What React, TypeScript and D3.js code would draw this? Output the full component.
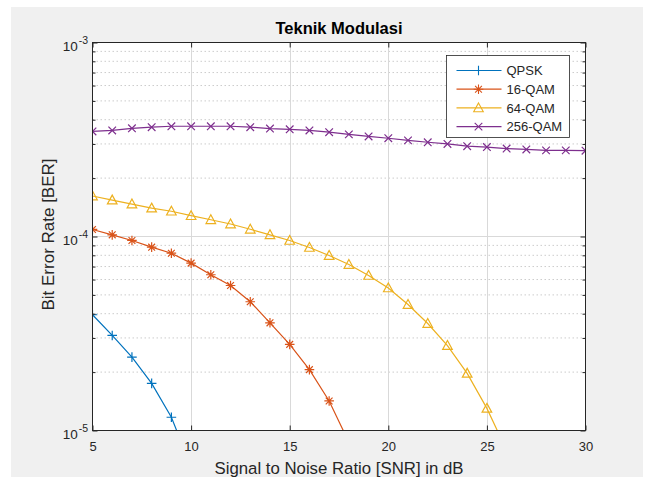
import { useEffect, useRef } from 'react';
import * as d3 from 'd3';

// SNR axis values (dB)
const snr = [5, 6, 7, 8, 9, 10, 11, 12, 13, 14, 15, 16, 17, 18, 19, 20, 21, 22, 23, 24, 25, 26, 27, 28, 29, 30];

// BER per modulation (index matches snr)
const berQpsk = [3.95e-5, 3.09e-5, 2.39e-5, 1.75e-5, 1.17e-5, 6.5e-6];
const berQam16 = [1.087e-4, 1.02e-4, 9.54e-5, 8.81e-5, 8.2e-5, 7.29e-5, 6.35e-5, 5.59e-5, 4.61e-5, 3.59e-5, 2.78e-5, 2.06e-5, 1.42e-5, 8.7e-6];
const berQam64 = [1.617e-4, 1.54e-4, 1.47e-4, 1.4e-4, 1.35e-4, 1.28e-4, 1.22e-4, 1.16e-4, 1.09e-4, 1.02e-4, 9.54e-5, 8.78e-5, 7.98e-5, 7.17e-5, 6.3e-5, 5.43e-5, 4.46e-5, 3.56e-5, 2.74e-5, 1.97e-5, 1.3e-5, 7.9e-6];
const berQam256 = [3.48e-4, 3.52e-4, 3.61e-4, 3.66e-4, 3.7e-4, 3.7e-4, 3.7e-4, 3.7e-4, 3.66e-4, 3.6e-4, 3.57e-4, 3.52e-4, 3.45e-4, 3.36e-4, 3.28e-4, 3.21e-4, 3.13e-4, 3.06e-4, 3.0e-4, 2.92e-4, 2.89e-4, 2.84e-4, 2.81e-4, 2.78e-4, 2.78e-4, 2.77e-4];

const seriesNames = ['QPSK', '16-QAM', '64-QAM', '256-QAM'];
const seriesColors = ['#0072BD', '#D95319', '#EDB120', '#7E2F8E'];
const seriesMarkers = ['plus', 'asterisk', 'triangle', 'cross'];
const seriesData = [berQpsk, berQam16, berQam64, berQam256];

const xTicks = [5, 10, 15, 20, 25, 30];
const yDecades = [-5, -4, -3];

const FONT = '"Liberation Sans", Arial, Helvetica, sans-serif';
const AX = '#262626';

// marker glyphs (MATLAB style)
const markerPath = (kind: string) => {
  if (kind === 'plus') return 'M-4.8,0H4.8M0,-4.8V4.8';
  if (kind === 'asterisk') return 'M-4.8,0H4.8M0,-4.8V4.8M-3.4,-3.4L3.4,3.4M-3.4,3.4L3.4,-3.4';
  if (kind === 'triangle') return 'M0,-5L4.8,3.8L-4.8,3.8Z';
  return 'M-3.8,-3.8L3.8,3.8M-3.8,3.8L3.8,-3.8';
};

const App = () => {
  const svgRef = useRef(null);

  useEffect(() => {
    const svg = d3.select(svgRef.current);
    svg.selectAll('*').remove();

    const left = 92.5, right = 585.5, top = 42.5, bottom = 430.5;

    const x = d3.scaleLinear().domain([5, 30]).range([left, right]);
    const y = d3.scaleLog().domain([1e-5, 1e-3]).range([bottom, top]);

    // figure background
    svg.append('rect')
      .attr('x', 11).attr('y', 7).attr('width', 632).attr('height', 470)
      .attr('fill', '#f0f0f0');

    // plot area
    svg.append('rect')
      .attr('x', left).attr('y', top)
      .attr('width', right - left).attr('height', bottom - top)
      .attr('fill', '#ffffff');

    svg.append('defs').append('clipPath').attr('id', 'plot-clip')
      .append('rect')
      .attr('x', left).attr('y', top)
      .attr('width', right - left).attr('height', bottom - top);

    const allTicks = y.ticks();
    const minorTicks = allTicks.filter(t => Math.abs(Math.log10(t) - Math.round(Math.log10(t))) > 1e-6);
    const majorY = yDecades.map(e => Math.pow(10, e));

    // minor grid (dotted)
    svg.append('g').selectAll('line')
      .data(minorTicks)
      .join('line')
      .attr('x1', left).attr('x2', right)
      .attr('y1', d => y(d)).attr('y2', d => y(d))
      .attr('stroke', '#cccccc')
      .attr('stroke-width', 1)
      .attr('stroke-dasharray', '1.5,2.5');

    // major grid
    const grid = svg.append('g').attr('stroke', '#d9d9d9').attr('stroke-width', 1);
    grid.selectAll('line.gx')
      .data(xTicks.slice(1, -1))
      .join('line')
      .attr('class', 'gx')
      .attr('x1', d => Math.round(x(d)) + 0.5).attr('x2', d => Math.round(x(d)) + 0.5)
      .attr('y1', top).attr('y2', bottom);
    grid.selectAll('line.gy')
      .data(majorY.slice(1, -1))
      .join('line')
      .attr('class', 'gy')
      .attr('x1', left).attr('x2', right)
      .attr('y1', d => Math.round(y(d)) + 0.5).attr('y2', d => Math.round(y(d)) + 0.5);

    // series
    const plot = svg.append('g').attr('clip-path', 'url(#plot-clip)');
    const line = d3.line<number>()
      .x((_, i) => x(snr[i]))
      .y(d => y(d));

    seriesData.forEach((vals, s) => {
      plot.append('path')
        .datum(vals)
        .attr('d', line)
        .attr('fill', 'none')
        .attr('stroke', seriesColors[s])
        .attr('stroke-width', 1.2);

      plot.append('g').selectAll('path')
        .data(vals)
        .join('path')
        .attr('transform', (d, i) => `translate(${x(snr[i])},${y(d)})`)
        .attr('d', markerPath(seriesMarkers[s]))
        .attr('fill', 'none')
        .attr('stroke', seriesColors[s])
        .attr('stroke-width', 1.2);
    });

    // ticks (inward), box
    const axes = svg.append('g');
    const styleAxis = (g: any) => {
      g.select('.domain').remove();
      g.selectAll('line').attr('stroke', AX);
    };

    axes.append('g')
      .attr('transform', `translate(0,${bottom})`)
      .call(d3.axisBottom(x).tickValues(xTicks).tickSizeInner(-5).tickSizeOuter(0).tickPadding(11).tickFormat(d3.format('d')))
      .call(styleAxis)
      .call((g: any) => g.selectAll('text')
        .attr('fill', AX).attr('font-size', 13).attr('font-family', FONT));

    axes.append('g')
      .attr('transform', `translate(0,${top})`)
      .call(d3.axisTop(x).tickValues(xTicks).tickSizeInner(-5).tickSizeOuter(0).tickFormat(() => ''))
      .call(styleAxis);

    axes.append('g')
      .attr('transform', `translate(${left},0)`)
      .call(d3.axisLeft(y).tickValues(majorY).tickSizeInner(-5).tickSizeOuter(0).tickFormat(() => ''))
      .call(styleAxis);
    axes.append('g')
      .attr('transform', `translate(${left},0)`)
      .call(d3.axisLeft(y).tickValues(minorTicks).tickSizeInner(-3).tickSizeOuter(0).tickFormat(() => ''))
      .call(styleAxis);
    axes.append('g')
      .attr('transform', `translate(${right},0)`)
      .call(d3.axisRight(y).tickValues(majorY).tickSizeInner(-5).tickSizeOuter(0).tickFormat(() => ''))
      .call(styleAxis);
    axes.append('g')
      .attr('transform', `translate(${right},0)`)
      .call(d3.axisRight(y).tickValues(minorTicks).tickSizeInner(-3).tickSizeOuter(0).tickFormat(() => ''))
      .call(styleAxis);

    axes.append('rect')
      .attr('x', left).attr('y', top)
      .attr('width', right - left).attr('height', bottom - top)
      .attr('fill', 'none')
      .attr('stroke', AX)
      .attr('stroke-width', 1);

    // y tick labels 10^n
    yDecades.forEach(e => {
      const t = svg.append('text')
        .attr('x', left - 4.5)
        .attr('y', y(Math.pow(10, e)) + 8.5)
        .attr('text-anchor', 'end')
        .attr('fill', AX)
        .attr('font-family', FONT)
        .attr('font-size', 13.5);
      t.append('tspan').text('10');
      t.append('tspan').attr('dx', 1).attr('dy', -7.5).attr('font-size', 10.5).text(`-${Math.abs(e)}`);
    });

    // title and axis labels
    svg.append('text')
      .attr('x', (left + right) / 2)
      .attr('y', 33.5)
      .attr('text-anchor', 'middle')
      .attr('font-family', FONT)
      .attr('font-weight', 'bold')
      .attr('font-size', 16.5)
      .attr('fill', '#000')
      .text('Teknik Modulasi');

    svg.append('text')
      .attr('x', (left + right) / 2)
      .attr('y', 473.5)
      .attr('text-anchor', 'middle')
      .attr('font-family', FONT)
      .attr('font-size', 16.8)
      .attr('fill', AX)
      .text('Signal to Noise Ratio [SNR] in dB');

    svg.append('text')
      .attr('transform', `translate(54,${(top + bottom) / 2 - 2}) rotate(-90)`)
      .attr('text-anchor', 'middle')
      .attr('font-family', FONT)
      .attr('font-size', 17)
      .attr('fill', AX)
      .text('Bit Error Rate [BER]');

    // legend
    const legend = svg.append('g');
    legend.append('rect')
      .attr('x', 446.5).attr('y', 55.5)
      .attr('width', 123).attr('height', 82)
      .attr('fill', '#ffffff')
      .attr('stroke', AX)
      .attr('stroke-width', 0.8);

    seriesNames.forEach((name, i) => {
      const ry = 70.5 + i * 18.7;
      legend.append('line')
        .attr('x1', 456.5).attr('x2', 501.5)
        .attr('y1', ry).attr('y2', ry)
        .attr('stroke', seriesColors[i])
        .attr('stroke-width', 1.2);
      legend.append('path')
        .attr('transform', `translate(478.5,${ry})`)
        .attr('d', markerPath(seriesMarkers[i]))
        .attr('fill', 'none')
        .attr('stroke', seriesColors[i])
        .attr('stroke-width', 1.1);
      legend.append('text')
        .attr('x', 506.5)
        .attr('y', ry + 4.6)
        .attr('font-family', FONT)
        .attr('font-size', 13)
        .attr('fill', AX)
        .text(name);
    });
  }, []);

  return (
    <svg
      ref={svgRef}
      width={647}
      height={477}
      style={{ position: 'absolute', left: 0, top: 0, display: 'block', background: '#ffffff' }}
    />
  );
};

export default App;
